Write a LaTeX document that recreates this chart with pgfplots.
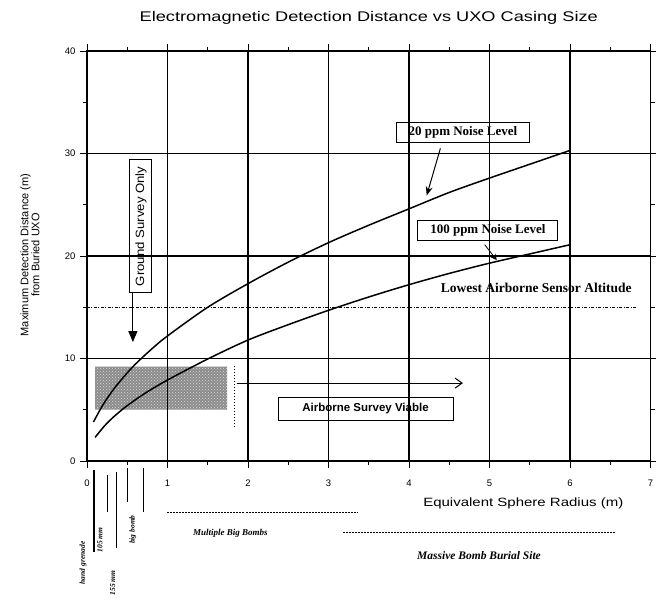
\documentclass[border=0pt]{standalone}
\usepackage{fontspec}
\setmainfont{Liberation Sans}
\newfontfamily\serif{Liberation Serif}
\usepackage{graphicx}
\usepackage{pgfplots}
\pgfplotsset{compat=1.18}
\usetikzlibrary{arrows.meta,patterns}
\newcommand{\fs}[1]{\fontsize{#1}{#1}\selectfont}
\begin{document}
\begin{tikzpicture}
\path[use as bounding box] (-87pt,-146pt) rectangle (569pt,461pt);
\begin{axis}[
  at={(0pt,0pt)}, anchor=south west,
  scale only axis, width=563.5pt, height=410pt,
  xmin=0, xmax=7, ymin=0, ymax=40,
  xtick={0,1,...,7}, ytick={0,10,...,40},
  minor xtick={0.5,1.5,...,6.5}, minor ytick={5,15,25,35},
  grid=major, major grid style={black, line width=1.2pt},
  axis line style={black, line width=1.2pt},
  tick style={black, line width=0.8pt},
  major tick length=7pt, minor tick length=4pt,
  tick align=outside,
  clip=false, axis on top,
  tick label style={font=\fs{9.5}},
  /pgf/number format/assume math mode=true,
  xticklabel style={yshift=-8pt},
  yticklabel style={xshift=-1pt},
]
% shaded airborne region
\addplot[draw=none, fill=black!45] coordinates {(0.1,5.0) (1.74,5.0) (1.74,9.2) (0.1,9.2) (0.1,5.0)};
\addplot[draw=none, pattern=crosshatch dots, pattern color=white!85!black] coordinates {(0.1,5.0) (1.74,5.0) (1.74,9.2) (0.1,9.2) (0.1,5.0)};
% dotted vertical line right of shading
\addplot[black, line width=0.8pt, dash pattern=on 1.5pt off 1.5pt] coordinates {(1.83,3.3) (1.83,9.4)};
% lowest airborne sensor altitude
\addplot[black, line width=1pt, dash pattern=on 3pt off 1.5pt on 1pt off 1.5pt] coordinates {(0,15) (6.83,15)};
% 20 ppm
\addplot[black, line width=1.5pt, smooth] coordinates {
(0.08,3.8) (0.2,5.5) (0.35,7.2) (0.57,9.2) (0.8,10.9) (1,12.2) (1.5,15.0) (2,17.3) (2.5,19.4) (3,21.3) (3.5,23.0) (4,24.6) (4.5,26.2) (5,27.6) (5.5,28.95) (6,30.3)};
% 100 ppm
\addplot[black, line width=1.5pt, smooth] coordinates {
(0.1,2.3) (0.25,3.7) (0.45,5.1) (0.7,6.5) (1,7.9) (1.5,9.95) (2,11.8) (2.5,13.3) (3,14.7) (3.5,16.0) (4,17.2) (4.5,18.3) (5,19.3) (5.5,20.2) (6,21.1)};
% thick left axis
\addplot[black, line width=2.5pt] coordinates {(0,0) (0,40)};
% ground survey arrow
\addplot[black, line width=1pt, -{Triangle[length=11pt,width=9pt]}] coordinates {(0.57,16.4) (0.57,11.6)};
% airborne survey arrow
\addplot[black, line width=1pt, -{Straight Barb[length=7pt,width=10pt]}] coordinates {(1.86,7.6) (4.67,7.6)};
% noise level arrows
\addplot[black, line width=1pt, -{Stealth[length=9pt,width=7pt]}] coordinates {(4.39,30.5) (4.22,25.9)};
\addplot[black, line width=0.8pt, -{Stealth[length=6pt,width=6pt]}] coordinates {(4.94,21.1) (5.09,19.6)};
% bottom range lines
\addplot[black, line width=1pt, dash pattern=on 2pt off 1pt] coordinates {(1.0,-5.07) (3.35,-5.07)};
\addplot[black, line width=1pt, dash pattern=on 2pt off 1pt] coordinates {(3.18,-7.0) (6.56,-7.0)};
% small size markers
\addplot[black, line width=1.2pt] coordinates {(0.087,-0.9) (0.087,-8.9)};
\addplot[black, line width=0.8pt] coordinates {(0.25,-1.4) (0.25,-5.0)};
\addplot[black, line width=1pt] coordinates {(0.37,-1.1) (0.37,-8.5)};
\addplot[black, line width=0.8pt] coordinates {(0.5,-0.7) (0.5,-4.0)};
\addplot[black, line width=0.8pt] coordinates {(0.7,-0.7) (0.7,-5.0)};

% boxes and texts
\node[draw, line width=0.9pt, fill=white, rotate=90, font=\fs{12}, inner sep=3pt, minimum width=133pt, minimum height=22pt] at (axis cs:0.67,22.9) {\scalebox{1.1}[1]{Ground Survey Only}};
\node[draw, line width=0.9pt, fill=white, font=\serif\bfseries\fs{13}, inner sep=3pt, minimum width=133pt, minimum height=20pt] at (axis cs:4.67,32.1) {20 ppm Noise Level};
\node[draw, line width=0.9pt, fill=white, font=\serif\bfseries\fs{13}, inner sep=3pt, minimum width=140pt, minimum height=20pt] at (axis cs:4.98,22.5) {100 ppm Noise Level};
\node[font=\serif\bfseries\fs{13.5}] at (axis cs:5.58,16.9) {Lowest Airborne Sensor Altitude};
\node[draw, line width=0.9pt, fill=white, font=\bfseries\fs{11.5}, inner sep=3pt, minimum width=175pt, minimum height=23pt] at (axis cs:3.46,5.1) {Airborne Survey Viable};

% title and axis labels
\node[font=\fs{14}] at (axis cs:3.5,43.2) {\scalebox{1.3}[1]{Electromagnetic Detection Distance vs UXO Casing Size}};
\node[font=\fs{12}] at (axis cs:5.42,-4.15) {\scalebox{1.25}[1]{Equivalent Sphere Radius (m)}};
\node[font=\fs{11}, rotate=90, align=center] at (axis cs:-0.71,20.1) {Maximum Detection Distance (m)\\from Buried UXO};

\node[font=\serif\bfseries\itshape\fs{9}] at (axis cs:1.78,-7.1) {Multiple Big Bombs};
\node[font=\serif\bfseries\itshape\fs{11.5}] at (axis cs:4.87,-9.2) {Massive Bomb Burial Site};

\node[font=\serif\bfseries\itshape\fs{7.5}, rotate=90] at (axis cs:-0.05,-9.95) {hand grenade};
\node[font=\serif\bfseries\itshape\fs{7.5}, rotate=90] at (axis cs:0.16,-7.7) {105 mm};
\node[font=\serif\bfseries\itshape\fs{7.5}, rotate=90] at (axis cs:0.32,-11.9) {155 mm};
\node[font=\serif\bfseries\itshape\fs{7.5}, rotate=90] at (axis cs:0.57,-6.7) {big bomb};
\end{axis}
\end{tikzpicture}
\end{document}
